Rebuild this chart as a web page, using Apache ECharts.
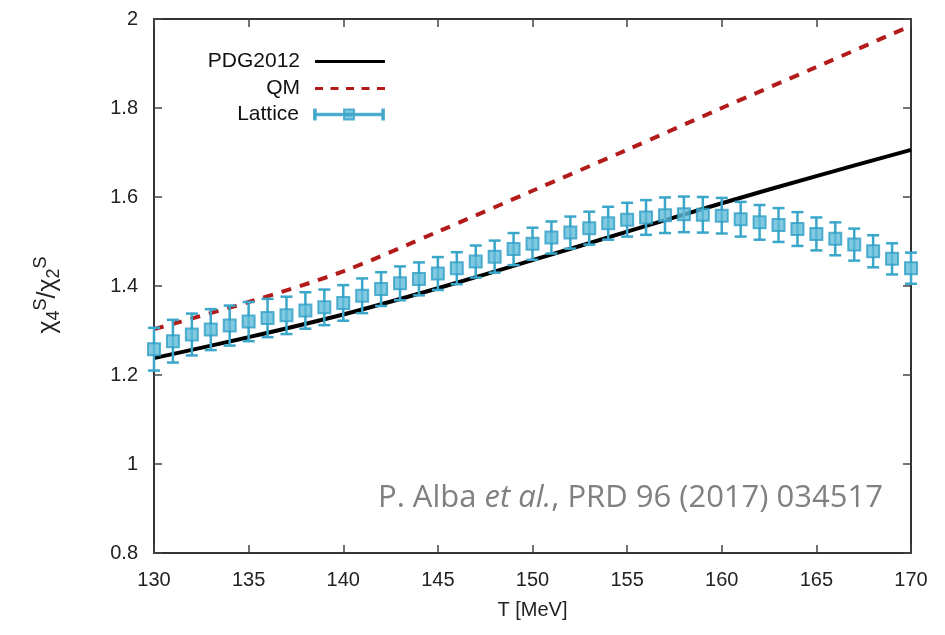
<!DOCTYPE html>
<html>
<head>
<meta charset="utf-8">
<script src="https://cdn.jsdelivr.net/npm/echarts@6/dist/echarts.min.js"></script>
<style>html,body{margin:0;padding:0;background:#fff;}#c{width:945px;height:635px;}</style>
</head>
<body>
<div id="c"></div>
<script>
const xTicks = [130, 135, 140, 145, 150, 155, 160, 165, 170];
const yTicks = [0.8, 1, 1.2, 1.4, 1.6, 1.8, 2];

const pdgT = [130, 135, 140, 145, 150, 155, 160, 165, 170];
const pdgV = [1.238, 1.285, 1.336, 1.395, 1.458, 1.522, 1.586, 1.647, 1.706];

const qmT = [130, 135, 140, 145, 150, 155, 160, 165, 170];
const qmV = [1.303, 1.364, 1.433, 1.522, 1.614, 1.706, 1.800, 1.892, 1.985];

const latT = [130,131,132,133,134,135,136,137,138,139,140,141,142,143,144,145,146,147,148,149,150,151,152,153,154,155,156,157,158,159,160,161,162,163,164,165,166,167,168,169,170];
const latV = [1.258,1.276,1.291,1.302,1.311,1.320,1.328,1.334,1.345,1.352,1.362,1.378,1.393,1.406,1.416,1.428,1.440,1.455,1.466,1.483,1.495,1.509,1.520,1.530,1.541,1.549,1.554,1.559,1.561,1.560,1.558,1.550,1.543,1.537,1.528,1.517,1.506,1.493,1.478,1.461,1.440];
const latE = [0.048,0.048,0.047,0.046,0.045,0.044,0.043,0.042,0.041,0.040,0.040,0.039,0.038,0.038,0.037,0.037,0.036,0.036,0.036,0.036,0.036,0.036,0.036,0.037,0.037,0.038,0.039,0.040,0.040,0.040,0.040,0.039,0.039,0.038,0.038,0.037,0.037,0.036,0.036,0.035,0.035];

const TEAL = '#3aa6c9';
const FONT = '"Liberation Sans", Arial, sans-serif';

const chart = echarts.init(document.getElementById('c'), null, {renderer: 'canvas'});

const pdgData = pdgT.map((t, i) => [t, pdgV[i]]);
const qmData = qmT.map((t, i) => [t, qmV[i]]);
const latData = latT.map((t, i) => [t, latV[i]]);
const errData = latT.map((t, i) => [t, latV[i] - latE[i], latV[i] + latE[i]]);

const latIcon = 'path://M0,6.2L70,6.2L70,7.8L0,7.8Z M0,2L1.8,2L1.8,12L0,12Z M68.2,2L70,2L70,12L68.2,12Z M30,2L40,2L40,12L30,12Z';

function legendBox(name, top, icon) {
  return {
    data: [{name: name, icon: icon}],
    right: 555,
    top: top,
    orient: 'vertical',
    align: 'right',
    itemWidth: 70,
    itemHeight: 14,
    selectedMode: false,
    textStyle: {fontFamily: FONT, fontSize: 21, color: '#111', padding: [0, 10, 0, 0]}
  };
}

const axisLineStyle = {color: '#333', width: 2};

chart.setOption({
  animation: false,
  backgroundColor: '#fff',
  grid: {left: 154, right: 34, top: 19, bottom: 82, containLabel: false},
  legend: [
    legendBox('PDG2012', 46, 'path://M0,5.5L70,5.5L70,8.5L0,8.5Z'),
    legendBox('QM', 73, 'path://M0,5.5L8,5.5L8,8.5L0,8.5Z M15.5,5.5L23.5,5.5L23.5,8.5L15.5,8.5Z M31,5.5L39,5.5L39,8.5L31,8.5Z M46.5,5.5L54.5,5.5L54.5,8.5L46.5,8.5Z M62,5.5L70,5.5L70,8.5L62,8.5Z'),
    legendBox('Lattice', 99, latIcon)
  ],
  xAxis: [
    {
      type: 'value', min: 130, max: 170, interval: 5,
      name: 'T [MeV]', nameLocation: 'middle', nameGap: 47,
      nameTextStyle: {fontFamily: FONT, fontSize: 20, color: '#222'},
      axisLine: {show: true, lineStyle: axisLineStyle},
      axisTick: {show: true, inside: true, length: 8, lineStyle: {color: '#444', width: 1.5}},
      axisLabel: {fontFamily: FONT, fontSize: 20, color: '#222', margin: 17,
        formatter: v => xTicks.includes(v) ? String(v) : ''},
      splitLine: {show: false}
    },
    {
      type: 'value', min: 130, max: 170, interval: 5, position: 'top',
      axisLine: {show: true, lineStyle: axisLineStyle},
      axisTick: {show: true, inside: true, length: 8, lineStyle: {color: '#444', width: 1.5}},
      axisLabel: {show: false}, splitLine: {show: false}
    }
  ],
  yAxis: [
    {
      type: 'value', min: 0.8, max: 2, interval: 0.2,
      name: '{a|χ}{sub|4}{sup|S}{a|/χ}{sub|2}{sup|S}',
      nameLocation: 'middle', nameGap: 90, nameRotate: 90,
      nameTextStyle: {
        fontFamily: FONT, color: '#222', padding: [0, 18, 0, 0],
        rich: {
          a: {fontFamily: FONT, fontSize: 25, color: '#222', verticalAlign: 'middle'},
          sub: {fontFamily: FONT, fontSize: 18, color: '#222', padding: [12, 0, 0, 0], verticalAlign: 'middle'},
          sup: {fontFamily: FONT, fontSize: 18, color: '#222', padding: [0, 0, 14, 0], verticalAlign: 'middle'}
        }
      },
      axisLine: {show: true, lineStyle: axisLineStyle},
      axisTick: {show: true, inside: true, length: 8, lineStyle: {color: '#444', width: 1.5}},
      axisLabel: {fontFamily: FONT, fontSize: 20, color: '#222', margin: 16,
        formatter: v => { const r = Math.round(v * 10) / 10; return yTicks.some(t => Math.abs(t - r) < 1e-9) ? String(r) : ''; }},
      splitLine: {show: false}
    },
    {
      type: 'value', min: 0.8, max: 2, interval: 0.2, position: 'right',
      axisLine: {show: true, lineStyle: axisLineStyle},
      axisTick: {show: true, inside: true, length: 8, lineStyle: {color: '#444', width: 1.5}},
      axisLabel: {show: false}, splitLine: {show: false}
    }
  ],
  graphic: [
    {
      type: 'text', left: 378, top: 483, z: 50,
      style: {
        text: '{n|P. Alba }{i|et al.}{n|, PRD 96 (2017) 034517}',
        rich: {
          n: {fontFamily: '"Open Sans", Lato, sans-serif', fontSize: 31, fill: '#808080'},
          i: {fontFamily: '"Open Sans", Lato, sans-serif', fontSize: 31, fontStyle: 'italic', fill: '#808080'}
        }
      }
    }
  ],
  series: [
    {
      name: 'QM', type: 'line', data: qmData, smooth: 0.3, showSymbol: false, symbol: 'none',
      lineStyle: {color: '#b31b1b', width: 4, type: [10, 9]}, itemStyle: {color: '#b31b1b'}, z: 3
    },
    {
      name: 'PDG2012', type: 'line', data: pdgData, smooth: 0.3, showSymbol: false, symbol: 'none',
      lineStyle: {color: '#000', width: 4}, itemStyle: {color: '#000'}, z: 4
    },
    {
      name: 'LatticeErr', type: 'custom', data: errData, z: 5,
      encode: {x: 0, y: [1, 2]},
      renderItem: function (params, api) {
        const x = api.value(0);
        const lo = api.coord([x, api.value(1)]);
        const hi = api.coord([x, api.value(2)]);
        const w = 6;
        const st = {stroke: TEAL, lineWidth: 2.5};
        return {
          type: 'group',
          children: [
            {type: 'line', shape: {x1: lo[0], y1: lo[1], x2: hi[0], y2: hi[1]}, style: st},
            {type: 'line', shape: {x1: lo[0] - w, y1: lo[1], x2: lo[0] + w, y2: lo[1]}, style: st},
            {type: 'line', shape: {x1: hi[0] - w, y1: hi[1], x2: hi[0] + w, y2: hi[1]}, style: st}
          ]
        };
      }
    },
    {
      name: 'Lattice', type: 'scatter', data: latData, symbol: 'rect', symbolSize: 12, z: 6,
      itemStyle: {color: '#62bcd9', borderColor: '#2f9fc5', borderWidth: 2}
    }
  ]
});
</script>
</body>
</html>
